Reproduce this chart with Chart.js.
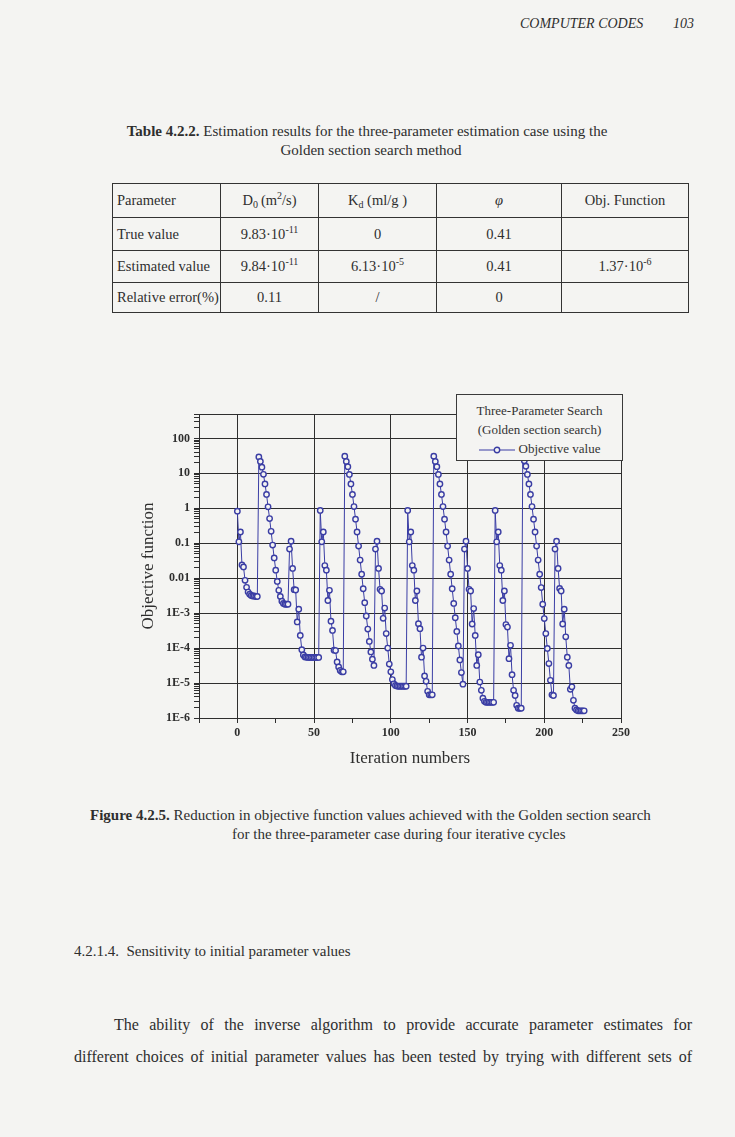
<!DOCTYPE html>
<html>
<head>
<meta charset="utf-8">
<script src="https://cdn.jsdelivr.net/npm/chart.js@4.4.1/dist/chart.umd.min.js"></script>
<style>
  html, body { margin: 0; padding: 0; }
  body {
    width: 735px; height: 1137px; position: relative; overflow: hidden;
    background: #f4f4f2; color: #2e2e2e;
    font-family: "Liberation Serif", "Times New Roman", serif;
  }
  .abs { position: absolute; white-space: nowrap; line-height: 1; }
  .header { font-style: italic; font-size: 14px; top: 17px; }
  .cap { font-size: 15px; }
  table.res {
    position: absolute; left: 112px; top: 183px; width: 576px; table-layout: fixed;
    border-collapse: collapse; font-size: 14.5px; color: #2e2e2e;
  }
  table.res td { border: 1.3px solid #333; text-align: center; padding: 0 3px; white-space: nowrap; }
  table.res td:first-child { text-align: left; padding-left: 4px; }
  table.res sup { font-size: 10px; vertical-align: 6px; line-height: 0; }
  table.res sub { font-size: 10px; vertical-align: -3px; line-height: 0; }
  #wrap { position: absolute; left: 134px; top: 380px; width: 506px; height: 397px; }
  #legend {
    position: absolute; left: 456px; top: 394px; width: 167px; height: 67px;
    border: 1px solid #3a3a3a; background: #f4f4f2; font-size: 13px; color: #333;
    text-align: center; line-height: 19px; padding-top: 6px; box-sizing: border-box;
  }
  #legend svg { vertical-align: middle; margin-right: 4px; }
  .para { position: absolute; left: 74px; width: 618px; font-size: 16px; line-height: 32px;
    text-align: justify; text-align-last: justify; }
</style>
</head>
<body>
<div class="abs header" style="left:520px">COMPUTER CODES</div>
<div class="abs header" style="left:673px">103</div>

<div class="abs cap" style="left:0; width:734px; text-align:center; top:124px"><b>Table 4.2.2.</b> Estimation results for the three-parameter estimation case using the</div>
<div class="abs cap" style="left:0; width:742px; text-align:center; top:143px">Golden section search method</div>

<table class="res">
  <colgroup><col style="width:108px"><col style="width:98px"><col style="width:118px"><col style="width:125px"><col style="width:127px"></colgroup>
  <tr style="height:34px"><td>Parameter</td><td>D<sub>0</sub>&thinsp;(m<sup>2</sup>/s)</td><td>K<sub>d</sub> (ml/g )</td><td><i>&phi;</i></td><td>Obj. Function</td></tr>
  <tr style="height:33px"><td>True value</td><td>9.83&middot;10<sup>-11</sup></td><td>0</td><td>0.41</td><td></td></tr>
  <tr style="height:32px"><td>Estimated value</td><td>9.84&middot;10<sup>-11</sup></td><td>6.13&middot;10<sup>-5</sup></td><td>0.41</td><td>1.37&middot;10<sup>-6</sup></td></tr>
  <tr style="height:30px"><td>Relative error(%)</td><td>0.11</td><td>/</td><td>0</td><td></td></tr>
</table>

<div id="wrap"><canvas id="chart"></canvas></div>
<div id="legend">
  <div>Three-Parameter Search</div>
  <div>(Golden section search)</div>
  <div><svg width="36" height="8"><line x1="0" y1="4" x2="36" y2="4" stroke="#3a3da4" stroke-width="1"/><circle cx="18" cy="4" r="2.7" fill="#f4f4f2" stroke="#3a3da4" stroke-width="1.4"/></svg>Objective value</div>
</div>

<div class="abs cap" style="left:90px; top:808px"><b>Figure 4.2.5.</b> Reduction in objective function values achieved with the Golden section search</div>
<div class="abs cap" style="left:232px; top:827px">for the three-parameter case during four iterative cycles</div>

<div class="abs" style="left:74px; top:944px; font-size:15px">4.2.1.4.&nbsp;&nbsp;Sensitivity to initial parameter values</div>
<div class="para" style="top:1009px; left:114px; width:578px">The ability of the inverse algorithm to provide accurate parameter estimates for</div>
<div class="para" style="top:1041px">different choices of initial parameter values has been tested by trying with different sets of</div>

<script>
// Objective function value at each iteration, one array per golden-section line search.
// 4 cycles x 3 parameters = 12 searches, iterations numbered consecutively from 0.
const search1 = [0.83, 0.11, 0.21, 0.024, 0.021, 0.0087, 0.0055, 0.0040, 0.0035, 0.0032, 0.0031, 0.0031, 0.0030, 0.0030];
const search2 = [29.5, 22, 15, 9.4, 5.0, 2.5, 1.1, 0.51, 0.22, 0.089, 0.038, 0.017, 0.0081, 0.0045, 0.0030, 0.0022, 0.0019, 0.0018, 0.0018, 0.0018];
const search3 = [0.068, 0.115, 0.019, 0.0047, 0.0046, 0.00056, 0.0013, 0.00023, 0.00009, 0.000064, 0.000056, 0.000055, 0.000054, 0.000054, 0.000054, 0.000054, 0.000054, 0.000054, 0.000054, 0.000054];
const search4 = [0.87, 0.11, 0.21, 0.023, 0.017, 0.0023, 0.0045, 0.00059, 0.00032, 0.000087, 0.000085, 0.00004, 0.000029, 0.000023, 0.000021, 0.000021];
const search5 = [31, 22, 15.5, 9.3, 5.0, 2.5, 1.12, 0.49, 0.21, 0.083, 0.033, 0.013, 0.005, 0.002, 0.00083, 0.00035, 0.000155, 0.000078, 0.000048, 0.000032];
const search6 = [0.068, 0.115, 0.019, 0.0048, 0.0043, 0.00071, 0.0014, 0.00026, 0.0001, 0.000035, 0.000021, 0.0000126, 0.0000095, 0.0000085, 0.0000082, 0.0000081, 0.0000081, 0.0000081, 0.0000081, 0.0000081, 0.0000081];
const search7 = [0.87, 0.11, 0.21, 0.023, 0.017, 0.0023, 0.0043, 0.0005, 0.00036, 0.000055, 0.0001, 0.000016, 0.0000112, 0.0000058, 0.0000046, 0.0000046, 0.0000046];
const search8 = [31, 22, 15.5, 9.3, 5.0, 2.5, 1.12, 0.49, 0.21, 0.083, 0.033, 0.013, 0.005, 0.0019, 0.00074, 0.0003, 0.000115, 0.000046, 0.00002, 0.0000093];
const search9 = [0.068, 0.115, 0.019, 0.0048, 0.0043, 0.00049, 0.00135, 0.00023, 0.000032, 0.000065, 0.0000107, 0.0000062, 0.0000037, 0.000003, 0.0000028, 0.0000028, 0.0000028, 0.0000028, 0.0000028, 0.0000028];
const search10 = [0.87, 0.11, 0.21, 0.023, 0.017, 0.0023, 0.0043, 0.00047, 0.0004, 0.00005, 0.00012, 0.0000174, 0.0000062, 0.0000044, 0.0000023, 0.0000019, 0.0000019, 0.0000019];
const search11 = [31, 23, 16, 9.3, 5.0, 2.5, 1.12, 0.49, 0.21, 0.083, 0.033, 0.013, 0.0054, 0.0018, 0.0007, 0.00026, 0.000098, 0.000036, 0.000012, 0.0000046, 0.0000044];
const search12 = [0.068, 0.115, 0.019, 0.0051, 0.0043, 0.00049, 0.0013, 0.00021, 0.000055, 0.000032, 0.0000066, 0.0000078, 0.0000032, 0.0000019, 0.0000017, 0.0000016, 0.0000016, 0.0000016, 0.0000016, 0.0000016];

const lineSearches = [search1, search2, search3, search4, search5, search6,
  search7, search8, search9, search10, search11, search12];

// axis ticks
const yDecades = [-6, -5, -4, -3, -2, -1, 0, 1, 2];
const yTickLabels = ["1E-6", "1E-5", "1E-4", "1E-3", "0.01", "0.1", "1", "10", "100"];
const xTickLabels = [0, 50, 100, 150, 200, 250];

const ink = "#2e2e2e";
const blue = "#3a3da4";
const paper = "#f4f4f2";
const serif = '"Liberation Serif", "Times New Roman", serif';
const tickFont = { family: serif, size: 12, weight: "bold" };
const titleFont = { family: serif, size: 17 };

const points = [];
lineSearches.flat().forEach((v, i) => points.push({ x: i, y: v }));

const isDecade = (v) => Math.abs(Math.log10(v) - Math.round(Math.log10(v))) < 1e-6;
const decadeLabel = (v) => {
  const i = yDecades.indexOf(Math.round(Math.log10(v)));
  return i < 0 ? "" : yTickLabels[i];
};

// frame round the plot (top and right edges)
const framePlugin = {
  id: "frame",
  afterDatasetsDraw(chart) {
    const { ctx, chartArea: a } = chart;
    ctx.save();
    ctx.strokeStyle = ink;
    ctx.lineWidth = 1;
    ctx.strokeRect(a.left + 0.5, a.top + 0.5, a.right - a.left, a.bottom - a.top);
    ctx.restore();
  },
};

new Chart(document.getElementById("chart"), {
  type: "line",
  data: {
    datasets: [
      {
        label: "Objective value",
        data: points,
        borderColor: blue,
        borderWidth: 1,
        pointRadius: 2.7,
        pointBorderWidth: 1.4,
        pointBorderColor: blue,
        pointBackgroundColor: paper,
        tension: 0,
      },
    ],
  },
  options: {
    responsive: true,
    maintainAspectRatio: false,
    animation: false,
    layout: { padding: { top: 34, right: 19, left: 0, bottom: 4 } },
    plugins: { legend: { display: false }, tooltip: { enabled: false } },
    scales: {
      x: {
        type: "linear",
        min: -25,
        max: 250,
        afterFit: (s) => { s.height = 55; },
        ticks: {
          stepSize: 25,
          autoSkip: false,
          maxRotation: 0,
          padding: 3,
          font: tickFont,
          color: ink,
          callback: (v) => (xTickLabels.includes(v) ? String(v) : ""),
        },
        grid: {
          color: (c) => (c.tick && xTickLabels.includes(c.tick.value) ? ink : "rgba(0,0,0,0)"),
          tickColor: ink,
          tickLength: 5,
        },
        border: { color: ink },
        title: { display: true, text: "Iteration numbers", font: titleFont, color: ink },
      },
      y: {
        type: "logarithmic",
        min: 1e-6,
        max: 500,
        afterBuildTicks: (s) => {
          const t = [];
          yDecades.forEach((d) => {
            for (let k = 1; k <= 9; k++) {
              const v = k * Math.pow(10, d);
              if (v <= 500) t.push({ value: v });
            }
          });
          s.ticks = t;
        },
        afterFit: (s) => { s.width = 65; },
        ticks: {
          autoSkip: false,
          padding: 4,
          font: tickFont,
          color: ink,
          callback: (v) => (isDecade(v) ? decadeLabel(v) : ""),
        },
        grid: {
          color: (c) => (c.tick && isDecade(c.tick.value) ? ink : "rgba(0,0,0,0)"),
          tickColor: ink,
          tickLength: 5,
        },
        border: { color: ink },
        title: { display: true, text: "Objective function", font: titleFont, color: ink },
      },
    },
  },
  plugins: [framePlugin],
});
</script>
</body>
</html>
